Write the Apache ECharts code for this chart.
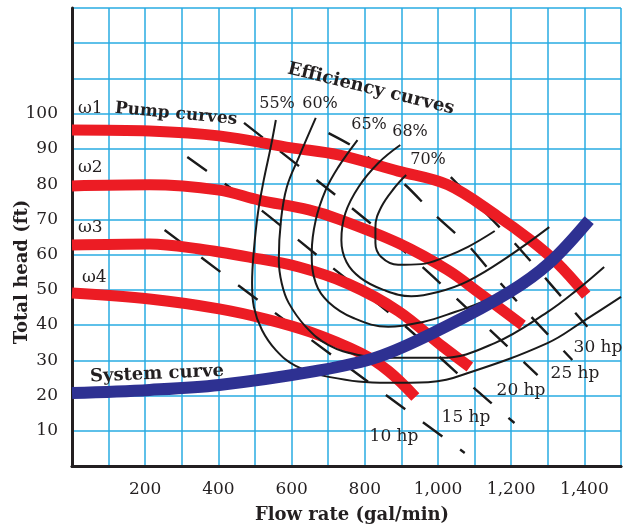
<!DOCTYPE html>
<html>
<head>
<meta charset="utf-8">
<script src="https://cdn.jsdelivr.net/npm/echarts@6/dist/echarts.min.js"></script>
<style>
html,body{margin:0;padding:0;background:#fff;}
#chart{width:624px;height:525px;}
</style>
</head>
<body>
<div id="chart"></div>
<script>
// ---- tick labels ----
const flowTickLabels = [200, 400, 600, 800, 1000, 1200, 1400];
const headTickLabels = [10, 20, 30, 40, 50, 60, 70, 80, 90, 100];

// ---- pump curves [flow gal/min, head ft] ----
const pumpW1 = [[0,95.4],[212,95.1],[402,93.7],[600,90.3],[728,88.3],[891,83.7],[1027,79.8],[1163,70.9],[1253,64.1],[1326,57.6],[1405,48.5]];
const pumpW2 = [[0,79.5],[212,79.8],[402,78.3],[511,75.5],[647,72.7],[728,70.1],[891,63.3],[1027,55.6],[1117,48.8],[1231,40.0]];
const pumpW3 = [[0,62.7],[212,63.0],[348,61.6],[484,59.3],[620,56.5],[755,51.7],[891,44.0],[1014,33.8],[1087,28.1]];
const pumpW4 = [[0,49.1],[212,47.4],[402,44.6],[530,41.7],[652,38.0],[788,32.1],[864,27.0],[938,19.6]];

// ---- system curve ----
const systemCurve = [[0,20.7],[212,21.6],[402,23.0],[652,26.7],[834,30.9],[1014,39.2],[1196,49.4],[1304,57.6],[1413,69.8]];

// ---- efficiency curves ----
const eff55 = [[557,98.2],[543,90.5],[524,81.2],[508,71.8],[497,61.3],[492,51.9],[497,45.1],[519,38.6],[557,32.9],[611,28.4],[701,25.3],[864,23.6],[973,23.8],[1082,26.4],[1299,34.9],[1394,40.9],[1500,48.0]];
const eff60 = [[666,98.8],[620,87.7],[587,79.2],[571,69.8],[565,58.5],[573,51.9],[592,46.3],[639,39.5],[701,34.3],[783,31.5],[864,30.7],[1008,30.7],[1155,34.9],[1299,43.7],[1380,50.0],[1454,56.5]];
const eff65 = [[780,92.5],[728,84.9],[693,78.3],[666,69.8],[655,60.5],[666,51.9],[701,46.5],[769,42.0],[864,39.5],[959,40.9],[1046,43.7],[1136,47.1],[1245,51.1]];
const eff68 = [[897,91.1],[837,86.0],[783,79.2],[747,71.8],[736,64.1],[750,57.9],[788,53.4],[851,50.0],[927,48.2],[1000,49.4],[1082,52.5],[1190,59.3],[1304,67.8]];
const eff70 = [[913,82.6],[883,79.2],[845,73.5],[829,67.8],[829,63.3],[845,59.3],[891,57.1],[954,57.3],[1019,59.3],[1082,62.2],[1155,66.7]];

// ---- constant power lines ----
const hp10 = [[253,67.0],[647,36.3],[1073,3.7]];
const hp15 = [[315,87.7],[516,72.7],[709,56.5],[897,40.9],[1082,23.6],[1209,12.2]];
const hp20 = [[470,97.4],[761,73.5],[951,57.1],[1136,39.2],[1272,25.8]];
const hp25 = [[701,94.5],[761,91.1],[905,80.3],[992,71.2],[1082,62.7],[1163,52.8],[1245,43.4],[1367,30.1]];
const hp30 = [[1035,82.0],[1209,63.3],[1408,39.5]];

const RED = '#ec1c24', NAVY = '#2e3192', BLK = '#1a1a1a', GRIDC = '#29abe2';
const FONT = '"DejaVu Serif", serif';

function fmtThousands(v){ return String(v).replace(/\B(?=(\d{3})+(?!\d))/g, ','); }

function line(name, data, color, width, z, extra){
  return Object.assign({
    name, type:'line', data, symbol:'none', showSymbol:false, smooth:0.35, z,
    lineStyle:{color, width, cap:'butt'}, silent:true
  }, extra||{});
}
function dashed(name, data){
  return line(name, data, BLK, 2.4, 2, {smooth:0.2, lineStyle:{color:BLK, width:2.4, type:[24,22], dashOffset:0}});
}

function txt(text, x, y, opts){
  opts = opts||{};
  return {
    type:'text', x, y, rotation: opts.rot||0, z:100,
    style:{
      text, fill:'#231f20',
      font: (opts.bold?'bold ':'') + (opts.size||17) + 'px ' + FONT,
      align: opts.align||'center', verticalAlign:'middle',
      textAlign: opts.align||'center', textVerticalAlign:'middle'
    }
  };
}

const chart = echarts.init(document.getElementById('chart'), null, {renderer:'canvas'});
chart.setOption({
  animation:false,
  backgroundColor:'#fff',
  grid:{left:72, right:0, top:8, bottom:59},
  xAxis:[{
    type:'value', min:0, max:1500, interval:100,
    axisLine:{show:true, onZero:false, lineStyle:{color:'#231f20', width:3}},
    axisTick:{show:false},
    splitLine:{show:true, lineStyle:{color:GRIDC, width:1.5}},
    axisLabel:{
      margin:15, color:'#231f20', fontFamily:FONT, fontSize:17,
      formatter:v => flowTickLabels.includes(v) ? fmtThousands(v) : ''
    }
  },{
    type:'value', position:'top', min:0, max:1500,
    axisLine:{show:true, lineStyle:{color:'#231f20', width:2.5}},
    axisTick:{show:false}, axisLabel:{show:false}, splitLine:{show:false}
  }],
  yAxis:{
    type:'value', min:0, max:130, interval:10,
    axisLine:{show:true, onZero:false, lineStyle:{color:'#231f20', width:3}},
    axisTick:{show:false},
    splitLine:{show:true, lineStyle:{color:GRIDC, width:1.5}},
    axisLabel:{
      margin:14, color:'#231f20', fontFamily:FONT, fontSize:17,
      formatter:v => headTickLabels.includes(v) ? String(v) : ''
    }
  },
  series:[
    dashed('10 hp', hp10),
    dashed('15 hp', hp15),
    dashed('20 hp', hp20),
    dashed('25 hp', hp25),
    dashed('30 hp', hp30),
    line('ω1', pumpW1, RED, 11, 3),
    line('ω2', pumpW2, RED, 11, 3),
    line('ω3', pumpW3, RED, 11, 3),
    line('ω4', pumpW4, RED, 11, 3),
    line('55%', eff55, BLK, 2, 4, {smooth:0.4}),
    line('60%', eff60, BLK, 2, 4, {smooth:0.4}),
    line('65%', eff65, BLK, 2, 4, {smooth:0.4}),
    line('68%', eff68, BLK, 2, 4, {smooth:0.4}),
    line('70%', eff70, BLK, 2, 4, {smooth:0.4}),
    line('System curve', systemCurve, NAVY, 12, 5)
  ],
  graphic:[
    txt('ω1', 78, 109, {align:'left'}),
    txt('Pump curves', 176, 114, {bold:true, rot:-0.094}),
    txt('ω2', 78, 168, {align:'left'}),
    txt('ω3', 78, 228, {align:'left'}),
    txt('ω4', 82, 278, {align:'left'}),
    txt('System curve', 157, 374, {bold:true, size:18, rot:0.044}),
    txt('Efficiency curves', 371, 89, {bold:true, size:18, rot:-0.239}),
    txt('55%', 277, 104, {size:16}),
    txt('60%', 320, 104, {size:16}),
    txt('65%', 369, 125, {size:16}),
    txt('68%', 410, 132, {size:16}),
    txt('70%', 428, 160, {size:16}),
    txt('10 hp', 394, 437),
    txt('15 hp', 466, 418),
    txt('20 hp', 521, 391),
    txt('25 hp', 575, 374),
    txt('30 hp', 598, 348),
    txt('Flow rate (gal/min)', 352, 515, {bold:true, size:18}),
    txt('Total head (ft)', 22, 272, {bold:true, size:18, rot:Math.PI/2})
  ]
});
</script>
</body>
</html>
